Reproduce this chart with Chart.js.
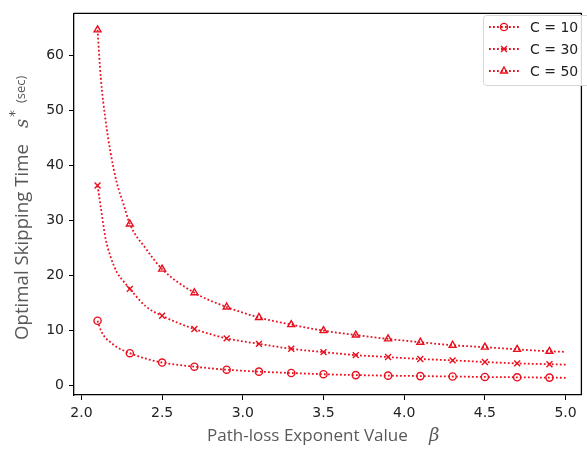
<!DOCTYPE html>
<html>
<head>
<meta charset="utf-8">
<script src="https://cdn.jsdelivr.net/npm/chart.js@4.4.1/dist/chart.umd.min.js"></script>
<style>
  html, body { margin: 0; padding: 0; background: #fff; }
  #wrap { width: 587px; height: 449px; }
</style>
</head>
<body>
<div id="wrap"><canvas id="chart" width="587" height="449"></canvas></div>
<script>
// marker positions (every 0.2)
const beta = [2.1, 2.3, 2.5, 2.7, 2.9, 3.1, 3.3, 3.5, 3.7, 3.9, 4.1, 4.3, 4.5, 4.7, 4.9];
const c10 = [11.7, 5.8, 4.1, 3.35, 2.8, 2.45, 2.2, 1.98, 1.82, 1.72, 1.64, 1.56, 1.48, 1.42, 1.36];
const c30 = [36.3, 17.5, 12.6, 10.2, 8.5, 7.5, 6.6, 6.0, 5.45, 5.1, 4.75, 4.5, 4.2, 3.95, 3.8];
const c50 = [64.6, 29.3, 21.1, 16.8, 14.2, 12.3, 11.0, 9.9, 9.1, 8.4, 7.8, 7.25, 6.9, 6.5, 6.15];

// dotted curves (denser where the curve bends)
const curveBeta = [2.1, 2.12, 2.15, 2.18, 2.22, 2.26, 2.3, 2.4, 2.5, 2.7, 2.9, 3.1, 3.3, 3.5, 3.7, 3.9, 4.1, 4.3, 4.5, 4.7, 4.9, 5.0];
const c10Curve = [11.7, 10.0, 8.55, 7.8, 6.9, 6.3, 5.8, 4.8, 4.1, 3.35, 2.8, 2.45, 2.2, 1.98, 1.82, 1.72, 1.64, 1.56, 1.48, 1.42, 1.36, 1.33];
const c30Curve = [36.3, 32.3, 26.6, 23.4, 20.5, 18.9, 17.5, 14.3, 12.6, 10.2, 8.5, 7.5, 6.6, 6.0, 5.45, 5.1, 4.75, 4.5, 4.2, 3.95, 3.8, 3.72];
const c50Curve = [64.6, 55.9, 48.1, 42.4, 36.7, 33.0, 29.3, 24.8, 21.1, 16.8, 14.2, 12.3, 11.0, 9.9, 9.1, 8.4, 7.8, 7.25, 6.9, 6.5, 6.15, 6.05];

const seriesLabels = ["C = 10", "C = 30", "C = 50"];
const xTicks = [2.0, 2.5, 3.0, 3.5, 4.0, 4.5, 5.0];
const yTicks = [0, 10, 20, 30, 40, 50, 60];

const RED = "#e8101e";
const DASH = [1.8, 2.2];
const markerStyles = ["circle", "crossRot", "triangle"];
const markerSizes = [3.6, 4.2, 4];

function curveSet(values) {
  return {
    data: curveBeta.map((b, i) => ({ x: b, y: values[i] })),
    borderColor: RED,
    borderWidth: 1.8,
    borderDash: DASH,
    borderCapStyle: "butt",
    cubicInterpolationMode: "monotone",
    pointRadius: 0,
    fill: false,
  };
}

function markerSet(label, values, i) {
  return {
    label,
    data: beta.map((b, k) => ({ x: b, y: values[k] })),
    showLine: false,
    pointStyle: markerStyles[i],
    pointRadius: markerSizes[i],
    pointBorderColor: RED,
    pointBackgroundColor: "rgba(0,0,0,0)",
    pointBorderWidth: 1.4,
  };
}

const datasets = [
  curveSet(c10Curve), curveSet(c30Curve), curveSet(c50Curve),
  markerSet(seriesLabels[0], c10, 0),
  markerSet(seriesLabels[1], c30, 1),
  markerSet(seriesLabels[2], c50, 2),
];

function drawMarker(ctx, style, r, x, y) {
  ctx.beginPath();
  if (style === "circle") {
    ctx.arc(x, y, r, 0, Math.PI * 2);
  } else if (style === "crossRot") {
    const d = r * Math.SQRT1_2;
    ctx.moveTo(x - d, y - d); ctx.lineTo(x + d, y + d);
    ctx.moveTo(x + d, y - d); ctx.lineTo(x - d, y + d);
  } else {
    const w = r * Math.sqrt(3) / 2;
    ctx.moveTo(x, y - r); ctx.lineTo(x + w, y + r / 2);
    ctx.lineTo(x - w, y + r / 2); ctx.closePath();
  }
  ctx.stroke();
}

// scale a font so a string takes the given width
function fitFont(ctx, text, family, width) {
  ctx.font = "16px " + family;
  const size = 16 * width / ctx.measureText(text).width;
  ctx.font = size.toFixed(2) + "px " + family;
}

// top/right spines, legend and axis titles with mixed fonts
const decor = {
  id: "decor",
  afterDraw(chart) {
    const ctx = chart.ctx;
    const a = chart.chartArea;
    ctx.save();
    ctx.strokeStyle = "#000";
    ctx.lineWidth = 1.3;
    ctx.beginPath();
    ctx.moveTo(a.left, a.top); ctx.lineTo(a.right, a.top); ctx.lineTo(a.right, a.bottom);
    ctx.stroke();

    // legend
    ctx.fillStyle = "rgba(255,255,255,0.85)";
    ctx.strokeStyle = "#d6d6d6";
    ctx.lineWidth = 1;
    ctx.beginPath();
    ctx.roundRect(483.5, 15.5, 110, 70, 3);
    ctx.fill(); ctx.stroke();
    seriesLabels.forEach((label, i) => {
      const yy = 27 + i * 22;
      ctx.strokeStyle = RED;
      ctx.lineWidth = 1.8;
      ctx.setLineDash(DASH);
      ctx.beginPath(); ctx.moveTo(489, yy); ctx.lineTo(519, yy); ctx.stroke();
      ctx.setLineDash([]);
      ctx.lineWidth = 1.4;
      drawMarker(ctx, markerStyles[i], markerSizes[i], 504, yy);
      ctx.fillStyle = "#222";
      ctx.font = "14px 'DejaVu Sans'";
      ctx.textBaseline = "middle";
      ctx.textAlign = "left";
      ctx.fillText(label, 530, yy + 1);
    });

    // x title
    ctx.fillStyle = "#595959";
    ctx.textBaseline = "alphabetic";
    ctx.textAlign = "left";
    const xt = "Path-loss Exponent Value";
    fitFont(ctx, xt, "'Open Sans'", 201);
    ctx.fillText(xt, 207, 441);
    ctx.font = "italic 18px 'DejaVu Serif'";
    ctx.fillText("\u03b2", 429, 441);

    // y title (rotated, reads bottom to top)
    ctx.translate(28, 340);
    ctx.rotate(-Math.PI / 2);
    const yt = "Optimal Skipping Time";
    fitFont(ctx, yt, "'Open Sans'", 196);
    ctx.fillText(yt, 0, 0);
    ctx.font = "italic 18px 'DejaVu Serif'";
    ctx.fillText("s", 212, 0);
    ctx.font = "14px 'DejaVu Sans'";
    ctx.fillText("*", 223, -9);
    ctx.font = "13px 'Open Sans'";
    ctx.fillText("(sec)", 237, -3);
    ctx.restore();
  }
};

new Chart(document.getElementById("chart"), {
  type: "line",
  data: { datasets },
  options: {
    responsive: false,
    animation: false,
    events: [],
    layout: { padding: { top: 8, right: 1, left: 0, bottom: 0 } },
    plugins: { legend: { display: false }, tooltip: { enabled: false } },
    scales: {
      x: {
        type: "linear",
        min: 1.954,
        max: 5.098,
        afterBuildTicks: (s) => { s.ticks = xTicks.map((v) => ({ value: v })); },
        afterFit: (s) => { s.height = 54; },
        grid: { drawOnChartArea: false, drawTicks: true, tickLength: 5, tickColor: "#000", tickWidth: 1 },
        border: { display: true, color: "#000", width: 1.3 },
        ticks: {
          padding: 5,
          color: "#222",
          font: { family: "DejaVu Sans", size: 14 },
          maxRotation: 0,
          callback: (v) => Number(v).toFixed(1),
        },
      },
      y: {
        type: "linear",
        min: -1.8,
        max: 67.6,
        afterBuildTicks: (s) => { s.ticks = yTicks.map((v) => ({ value: v })); },
        afterFit: (s) => { s.width = 74; },
        grid: { drawOnChartArea: false, drawTicks: true, tickLength: 5, tickColor: "#000", tickWidth: 1 },
        border: { display: true, color: "#000", width: 1.3 },
        ticks: {
          padding: 5,
          color: "#222",
          font: { family: "DejaVu Sans", size: 14 },
          callback: (v) => String(v),
        },
      },
    },
  },
  plugins: [decor],
});
</script>
</body>
</html>
